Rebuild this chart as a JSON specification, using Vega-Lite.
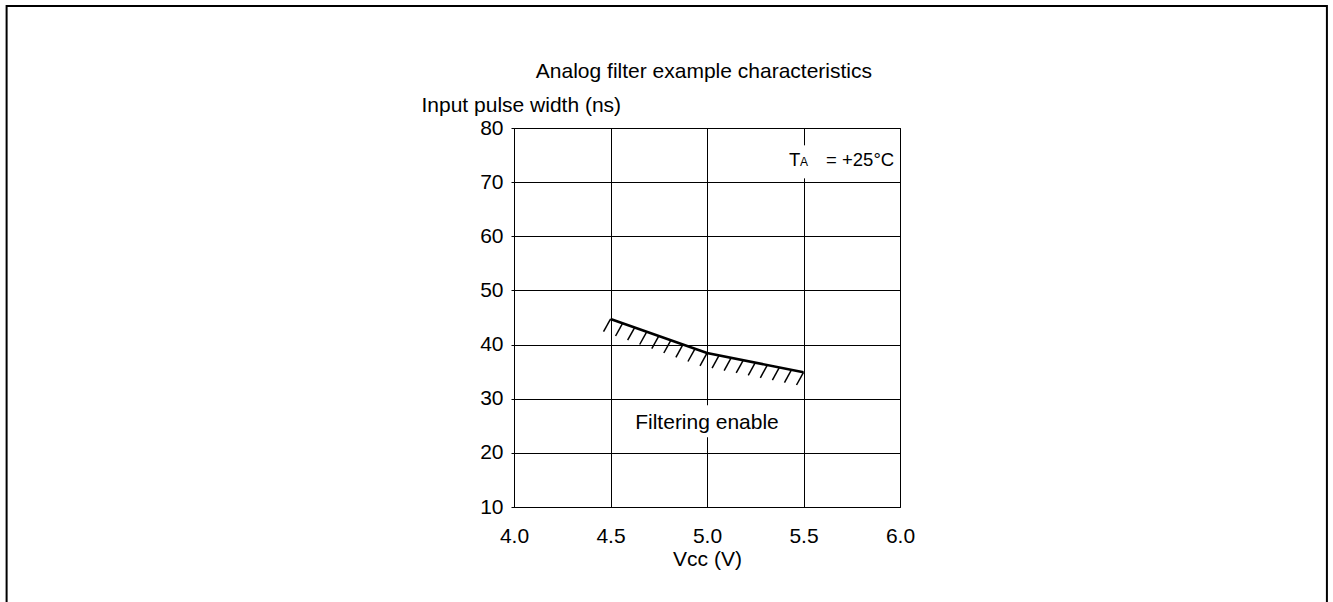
{
  "$schema": "https://vega.github.io/schema/vega-lite/v6.json",
  "width": 386,
  "height": 379,
  "autosize": {"type": "none"},
  "padding": {"left": 514, "top": 128, "right": 433, "bottom": 95},
  "background": "white",
  "config": {
    "font": "Liberation Sans",
    "view": {"stroke": "black", "strokeWidth": 1},
    "axis": {
      "labelFont": "Liberation Sans", "labelFontSize": 21, "labelColor": "black",
      "titleFont": "Liberation Sans", "titleFontSize": 21, "titleFontWeight": "normal", "titleColor": "black",
      "domain": false, "gridColor": "black", "gridOpacity": 1, "gridWidth": 1, "tickColor": "black"
    },
    "axisX": {"ticks": false, "tickSize": 0, "labelPadding": 18, "titlePadding": 2, "labelFlush": false},
    "axisY": {"ticks": true, "tickSize": 3, "labelPadding": 8, "titleAngle": 0, "titleAlign": "left", "titleBaseline": "alphabetic", "titleX": -93, "titleY": -17, "labelFlush": false}
  },
  "encoding": {
    "x": {"field": "x", "type": "quantitative", "title": "Vcc (V)",
      "scale": {"domain": [4, 6], "nice": false, "zero": false},
      "axis": {"values": [4, 4.5, 5, 5.5, 6], "format": ".1f"}},
    "y": {"field": "y", "type": "quantitative", "title": "Input pulse width (ns)",
      "scale": {"domain": [10, 80], "nice": false, "zero": false},
      "axis": {"values": [10, 20, 30, 40, 50, 60, 70, 80]}}
  },
  "layer": [
    {
      "data": {"values": [{"x": 1.371, "x2": 8.212, "y": -10, "y2": 102.53}]},
      "mark": {"type": "rect", "fill": null, "fillOpacity": 0, "stroke": "black", "strokeWidth": 2, "clip": false},
      "encoding": {"x2": {"field": "x2"}, "y2": {"field": "y2"}}
    },
    {
      "data": {"values": [
        {"x": 4.9, "x2": 5.1, "y": 22.9, "y2": 28.8},
        {"x": 5.45, "x2": 5.55, "y": 70.7, "y2": 76.8}
      ]},
      "mark": {"type": "rect", "fill": "white", "stroke": null},
      "encoding": {"x2": {"field": "x2"}, "y2": {"field": "y2"}}
    },
    {
      "data": {"values": [
        {"x": 4.5, "y": 44.72},
        {"x": 5.0, "y": 38.43},
        {"x": 5.5, "y": 34.88}
      ]},
      "mark": {"type": "line", "color": "black", "strokeWidth": 2.6}
    },
    {
      "data": {"values": [
        {"x": 4.5, "y": 44.72}, {"x": 4.5625, "y": 43.93}, {"x": 4.625, "y": 43.15}, {"x": 4.6875, "y": 42.36},
        {"x": 4.75, "y": 41.58}, {"x": 4.8125, "y": 40.79}, {"x": 4.875, "y": 40.0}, {"x": 4.9375, "y": 39.22},
        {"x": 5.0, "y": 38.43}, {"x": 5.0625, "y": 37.99}, {"x": 5.125, "y": 37.54}, {"x": 5.1875, "y": 37.1},
        {"x": 5.25, "y": 36.66}, {"x": 5.3125, "y": 36.21}, {"x": 5.375, "y": 35.77}, {"x": 5.4375, "y": 35.32},
        {"x": 5.5, "y": 34.88}
      ]},
      "mark": {"type": "point", "shape": "M0,0L-0.55,1", "size": 645, "filled": false, "stroke": "black", "strokeWidth": 1.5, "opacity": 1}
    },
    {
      "data": {"values": [{"x": 4.984, "y": 89.24, "text": "Analog filter example characteristics"}]},
      "mark": {"type": "text", "font": "Liberation Sans", "fontSize": 21, "align": "center", "baseline": "alphabetic", "color": "black", "clip": false},
      "encoding": {"text": {"field": "text"}}
    },
    {
      "data": {"values": [{"x": 5.0, "y": 25.5, "text": "Filtering enable"}]},
      "mark": {"type": "text", "font": "Liberation Sans", "fontSize": 21, "align": "center", "baseline": "middle", "color": "black"},
      "encoding": {"text": {"field": "text"}}
    },
    {
      "data": {"values": [
        {"x": 5.425, "y": 72.93, "text": "T"},
        {"x": 5.617, "y": 72.93, "text": "= +25°C"}
      ]},
      "mark": {"type": "text", "font": "Liberation Sans", "fontSize": 18.5, "align": "left", "baseline": "alphabetic", "color": "black"},
      "encoding": {"text": {"field": "text"}}
    },
    {
      "data": {"values": [{"x": 5.482, "y": 72.93, "text": "A"}]},
      "mark": {"type": "text", "font": "Liberation Sans", "fontSize": 12, "align": "left", "baseline": "alphabetic", "color": "black"},
      "encoding": {"text": {"field": "text"}}
    }
  ]
}
